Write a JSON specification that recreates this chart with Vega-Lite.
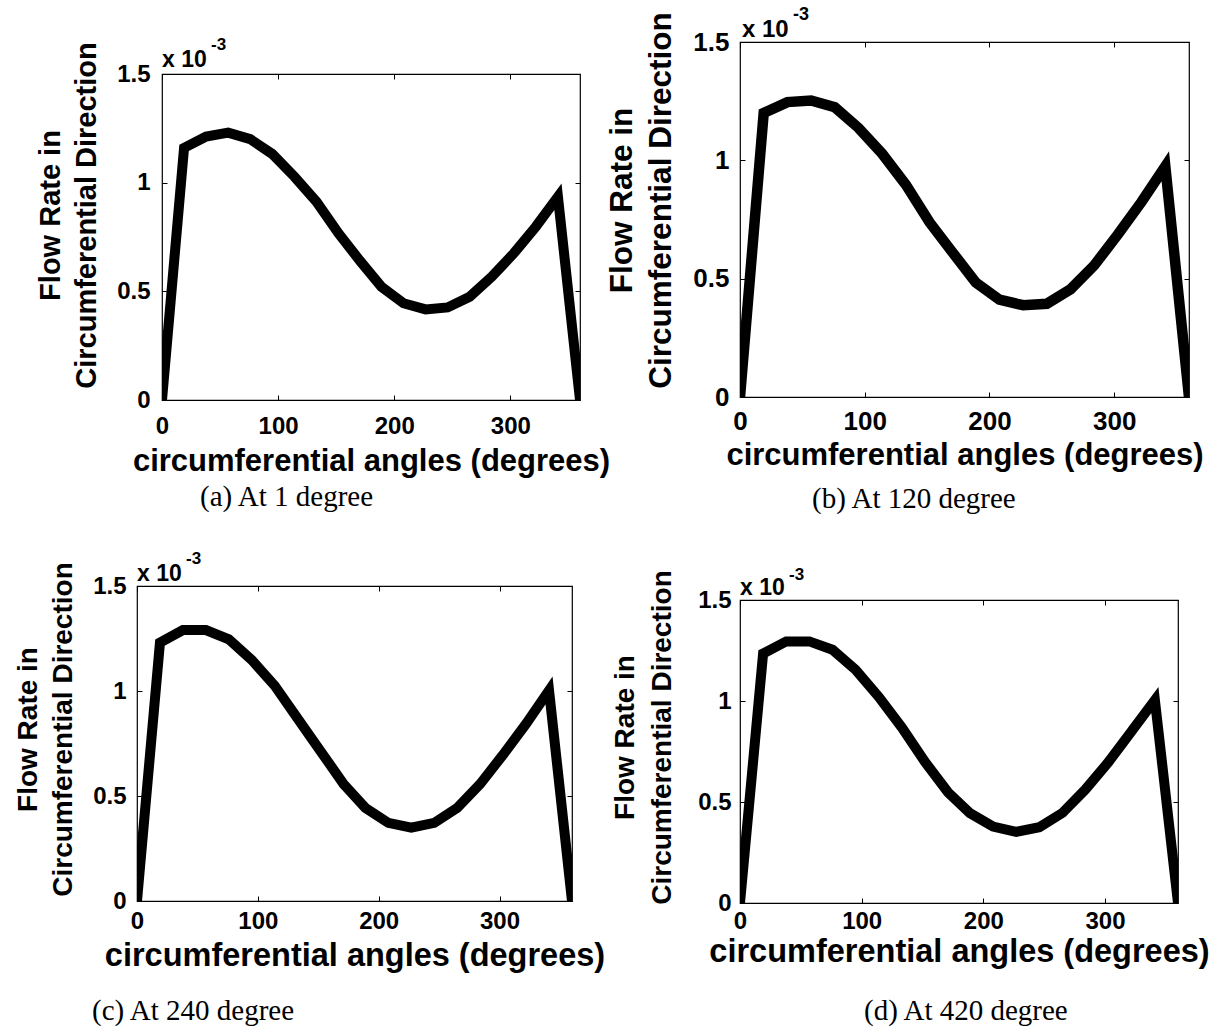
{
  "$schema": "https://vega.github.io/schema/vega-lite/v6.json",
  "background": "white",
  "padding": {"left": 0, "top": 5, "right": 0, "bottom": 0},
  "datasets": {
    "a": [
      {"angle": 0, "flow": 0}, {"angle": 19, "flow": 1.16}, {"angle": 38, "flow": 1.212}, {"angle": 57, "flow": 1.23},
      {"angle": 76, "flow": 1.2}, {"angle": 95, "flow": 1.132}, {"angle": 114, "flow": 1.028}, {"angle": 133, "flow": 0.913},
      {"angle": 152, "flow": 0.767}, {"angle": 171, "flow": 0.637}, {"angle": 189, "flow": 0.521}, {"angle": 208, "flow": 0.445},
      {"angle": 227, "flow": 0.417}, {"angle": 246, "flow": 0.426}, {"angle": 265, "flow": 0.475}, {"angle": 284, "flow": 0.567},
      {"angle": 303, "flow": 0.675}, {"angle": 322, "flow": 0.798}, {"angle": 341, "flow": 0.935}, {"angle": 360, "flow": 0}
    ],
    "b": [
      {"angle": 0, "flow": 0}, {"angle": 19, "flow": 1.2}, {"angle": 38, "flow": 1.246}, {"angle": 57, "flow": 1.253},
      {"angle": 76, "flow": 1.224}, {"angle": 95, "flow": 1.137}, {"angle": 114, "flow": 1.028}, {"angle": 133, "flow": 0.897},
      {"angle": 152, "flow": 0.738}, {"angle": 171, "flow": 0.607}, {"angle": 189, "flow": 0.484}, {"angle": 208, "flow": 0.411},
      {"angle": 227, "flow": 0.388}, {"angle": 246, "flow": 0.394}, {"angle": 265, "flow": 0.455}, {"angle": 284, "flow": 0.556},
      {"angle": 303, "flow": 0.687}, {"angle": 322, "flow": 0.825}, {"angle": 341, "flow": 0.975}, {"angle": 360, "flow": 0}
    ],
    "c": [
      {"angle": 0, "flow": 0}, {"angle": 19, "flow": 1.23}, {"angle": 38, "flow": 1.29}, {"angle": 57, "flow": 1.29},
      {"angle": 76, "flow": 1.246}, {"angle": 95, "flow": 1.148}, {"angle": 114, "flow": 1.025}, {"angle": 133, "flow": 0.869},
      {"angle": 152, "flow": 0.713}, {"angle": 171, "flow": 0.557}, {"angle": 189, "flow": 0.443}, {"angle": 208, "flow": 0.372},
      {"angle": 227, "flow": 0.349}, {"angle": 246, "flow": 0.372}, {"angle": 265, "flow": 0.443}, {"angle": 284, "flow": 0.557},
      {"angle": 303, "flow": 0.697}, {"angle": 322, "flow": 0.844}, {"angle": 341, "flow": 1.003}, {"angle": 360, "flow": 0}
    ],
    "d": [
      {"angle": 0, "flow": 0}, {"angle": 19, "flow": 1.235}, {"angle": 38, "flow": 1.295}, {"angle": 57, "flow": 1.295},
      {"angle": 76, "flow": 1.254}, {"angle": 95, "flow": 1.155}, {"angle": 114, "flow": 1.021}, {"angle": 133, "flow": 0.869},
      {"angle": 152, "flow": 0.699}, {"angle": 171, "flow": 0.548}, {"angle": 189, "flow": 0.445}, {"angle": 208, "flow": 0.378},
      {"angle": 227, "flow": 0.352}, {"angle": 246, "flow": 0.375}, {"angle": 265, "flow": 0.446}, {"angle": 284, "flow": 0.563},
      {"angle": 303, "flow": 0.699}, {"angle": 322, "flow": 0.852}, {"angle": 341, "flow": 1.005}, {"angle": 360, "flow": 0}
    ]
  },
  "spacing": -6,
  "hconcat": [
    {
      "spacing": -8,
      "vconcat": [
        {"width": 1, "height": 1, "view": {"stroke": null, "fill": "white"}, "data": {"values": []}, "mark": {"type": "point", "opacity": 0}},
        {
          "spacing": 36,
          "vconcat": [
            {
              "spacing": 35,
              "hconcat": [
                {"width": 1, "height": 1, "view": {"stroke": null, "fill": "white"}, "data": {"values": []}, "mark": {"type": "point", "opacity": 0}},
                {
                  "width": 418, "height": 326,
                  "title": {"text": "(a) At 1 degree", "orient": "bottom", "anchor": "start", "frame": "group", "dx": 38, "offset": 6.5},
                  "layer": [
                    {
                      "data": {"name": "a"},
                      "mark": {"type": "line", "color": "black", "strokeWidth": 10, "clip": true},
                      "encoding": {
                        "x": {"field": "angle", "type": "quantitative", "scale": {"domain": [0, 360], "nice": false, "zero": false},
                              "axis": {"orient": "bottom", "values": [0, 100, 200, 300], "title": "circumferential angles (degrees)", "labelFontSize": 24, "labelPadding": 19, "titleFontSize": 31, "titlePadding": 8}},
                        "y": {"field": "flow", "type": "quantitative", "scale": {"domain": [0, 1.5], "nice": false},
                              "axis": {"orient": "left", "values": [0, 0.5, 1, 1.5], "labelExpr": "'' + datum.value", "title": ["Flow Rate in", "Circumferential Direction"], "labelFontSize": 24, "labelPadding": 17, "titleFontSize": 29, "titleLineHeight": 36, "titleY": 141, "titlePadding": 15}}
                      }
                    },
                    {
                      "data": {"values": [{}]},
                      "mark": {"type": "text", "text": "x 10", "align": "left", "baseline": "alphabetic", "dx": 0, "dy": -7, "fontSize": 23, "fontWeight": "bold", "color": "black"},
                      "encoding": {
                        "x": {"datum": 0, "type": "quantitative", "axis": {"orient": "top", "values": [0, 100, 200, 300], "labels": false, "title": null}},
                        "y": {"datum": 1.5, "type": "quantitative", "axis": {"orient": "right", "values": [0, 0.5, 1, 1.5], "labels": false, "title": null}}
                      }
                    },
                    {
                      "data": {"values": [{}]},
                      "mark": {"type": "text", "text": "-3", "align": "left", "baseline": "alphabetic", "dx": 49, "dy": -24, "fontSize": 17, "fontWeight": "bold", "color": "black"},
                      "encoding": {
                        "x": {"datum": 0, "type": "quantitative", "axis": null},
                        "y": {"datum": 1.5, "type": "quantitative", "axis": null}
                      }
                    }
                  ]
                }
              ]
            },
            {
              "spacing": 12,
              "hconcat": [
                {"width": 1, "height": 1, "view": {"stroke": null, "fill": "white"}, "data": {"values": []}, "mark": {"type": "point", "opacity": 0}},
                {
                  "width": 435, "height": 315,
                  "title": {"text": "(c) At 240 degree", "orient": "bottom", "anchor": "start", "frame": "group", "dx": -45, "offset": 25.75},
                  "layer": [
                    {
                      "data": {"name": "c"},
                      "mark": {"type": "line", "color": "black", "strokeWidth": 10, "clip": true},
                      "encoding": {
                        "x": {"field": "angle", "type": "quantitative", "scale": {"domain": [0, 360], "nice": false, "zero": false},
                              "axis": {"orient": "bottom", "values": [0, 100, 200, 300], "title": "circumferential angles (degrees)", "labelFontSize": 24, "labelPadding": 13, "titleFontSize": 32.5, "titlePadding": 6}},
                        "y": {"field": "flow", "type": "quantitative", "scale": {"domain": [0, 1.5], "nice": false},
                              "axis": {"orient": "left", "values": [0, 0.5, 1, 1.5], "labelExpr": "'' + datum.value", "title": ["Flow Rate in", "Circumferential Direction"], "labelFontSize": 24, "labelPadding": 16, "titleFontSize": 28, "titleLineHeight": 35, "titleY": 143, "titlePadding": 15.6}}
                      }
                    },
                    {
                      "data": {"values": [{}]},
                      "mark": {"type": "text", "text": "x 10", "align": "left", "baseline": "alphabetic", "dx": 0, "dy": -5, "fontSize": 23, "fontWeight": "bold", "color": "black"},
                      "encoding": {
                        "x": {"datum": 0, "type": "quantitative", "axis": {"orient": "top", "values": [0, 100, 200, 300], "labels": false, "title": null}},
                        "y": {"datum": 1.5, "type": "quantitative", "axis": {"orient": "right", "values": [0, 0.5, 1, 1.5], "labels": false, "title": null}}
                      }
                    },
                    {
                      "data": {"values": [{}]},
                      "mark": {"type": "text", "text": "-3", "align": "left", "baseline": "alphabetic", "dx": 49, "dy": -22, "fontSize": 17, "fontWeight": "bold", "color": "black"},
                      "encoding": {
                        "x": {"datum": 0, "type": "quantitative", "axis": null},
                        "y": {"datum": 1.5, "type": "quantitative", "axis": null}
                      }
                    }
                  ]
                }
              ]
            }
          ]
        }
      ]
    },
    {
      "spacing": 50,
      "vconcat": [
        {
          "width": 449, "height": 355,
          "title": {"text": "(b) At 120 degree", "orient": "bottom", "anchor": "start", "frame": "group", "dx": 72, "offset": 14.5},
          "layer": [
            {
              "data": {"name": "b"},
              "mark": {"type": "line", "color": "black", "strokeWidth": 10.5, "clip": true},
              "encoding": {
                "x": {"field": "angle", "type": "quantitative", "scale": {"domain": [0, 360], "nice": false, "zero": false},
                      "axis": {"orient": "bottom", "values": [0, 100, 200, 300], "title": "circumferential angles (degrees)", "labelFontSize": 26, "labelPadding": 16, "titleFontSize": 31, "titlePadding": 6}},
                "y": {"field": "flow", "type": "quantitative", "scale": {"domain": [0, 1.5], "nice": false},
                      "axis": {"orient": "left", "values": [0, 0.5, 1, 1.5], "labelExpr": "'' + datum.value", "title": ["Flow Rate in", "Circumferential Direction"], "labelFontSize": 26, "labelPadding": 16, "titleFontSize": 31.5, "titleLineHeight": 39, "titleY": 158, "titlePadding": 15.6}}
              }
            },
            {
              "data": {"values": [{}]},
              "mark": {"type": "text", "text": "x 10", "align": "left", "baseline": "alphabetic", "dx": 2, "dy": -5, "fontSize": 24, "fontWeight": "bold", "color": "black"},
              "encoding": {
                "x": {"datum": 0, "type": "quantitative", "axis": {"orient": "top", "values": [0, 100, 200, 300], "labels": false, "title": null}},
                "y": {"datum": 1.5, "type": "quantitative", "axis": {"orient": "right", "values": [0, 0.5, 1, 1.5], "labels": false, "title": null}}
              }
            },
            {
              "data": {"values": [{}]},
              "mark": {"type": "text", "text": "-3", "align": "left", "baseline": "alphabetic", "dx": 53, "dy": -22, "fontSize": 18, "fontWeight": "bold", "color": "black"},
              "encoding": {
                "x": {"datum": 0, "type": "quantitative", "axis": null},
                "y": {"datum": 1.5, "type": "quantitative", "axis": null}
              }
            }
          ]
        },
        {
          "width": 438, "height": 303,
          "title": {"text": "(d) At 420 degree", "orient": "bottom", "anchor": "start", "frame": "group", "dx": 124, "offset": 29},
          "layer": [
            {
              "data": {"name": "d"},
              "mark": {"type": "line", "color": "black", "strokeWidth": 10, "clip": true},
              "encoding": {
                "x": {"field": "angle", "type": "quantitative", "scale": {"domain": [0, 360], "nice": false, "zero": false},
                      "axis": {"orient": "bottom", "values": [0, 100, 200, 300], "title": "circumferential angles (degrees)", "labelFontSize": 24, "labelPadding": 11, "titleFontSize": 32.5, "titlePadding": 2}},
                "y": {"field": "flow", "type": "quantitative", "scale": {"domain": [0, 1.5], "nice": false},
                      "axis": {"orient": "left", "values": [0, 0.5, 1, 1.5], "labelExpr": "'' + datum.value", "title": ["Flow Rate in", "Circumferential Direction"], "labelFontSize": 24, "labelPadding": 14, "titleFontSize": 28, "titleLineHeight": 37, "titleY": 137, "titlePadding": 21.6}}
              }
            },
            {
              "data": {"values": [{}]},
              "mark": {"type": "text", "text": "x 10", "align": "left", "baseline": "alphabetic", "dx": 0, "dy": -5, "fontSize": 23, "fontWeight": "bold", "color": "black"},
              "encoding": {
                "x": {"datum": 0, "type": "quantitative", "axis": {"orient": "top", "values": [0, 100, 200, 300], "labels": false, "title": null}},
                "y": {"datum": 1.5, "type": "quantitative", "axis": {"orient": "right", "values": [0, 0.5, 1, 1.5], "labels": false, "title": null}}
              }
            },
            {
              "data": {"values": [{}]},
              "mark": {"type": "text", "text": "-3", "align": "left", "baseline": "alphabetic", "dx": 49, "dy": -20, "fontSize": 17, "fontWeight": "bold", "color": "black"},
              "encoding": {
                "x": {"datum": 0, "type": "quantitative", "axis": null},
                "y": {"datum": 1.5, "type": "quantitative", "axis": null}
              }
            }
          ]
        }
      ]
    }
  ],
  "config": {
    "view": {"stroke": "black", "strokeWidth": 1.2},
    "axis": {
      "grid": false, "domain": false, "ticks": true, "tickColor": "black", "tickSize": -5, "tickWidth": 1,
      "labelFont": "Liberation Sans", "labelFontWeight": "bold", "labelColor": "black",
      "labelFlush": false, "labelOverlap": false,
      "titleFont": "Liberation Sans", "titleFontWeight": "bold", "titleColor": "black"
    },
    "title": {"font": "Liberation Serif", "fontSize": 29, "fontWeight": "normal", "color": "black"},
    "text": {"font": "Liberation Sans"}
  }
}
